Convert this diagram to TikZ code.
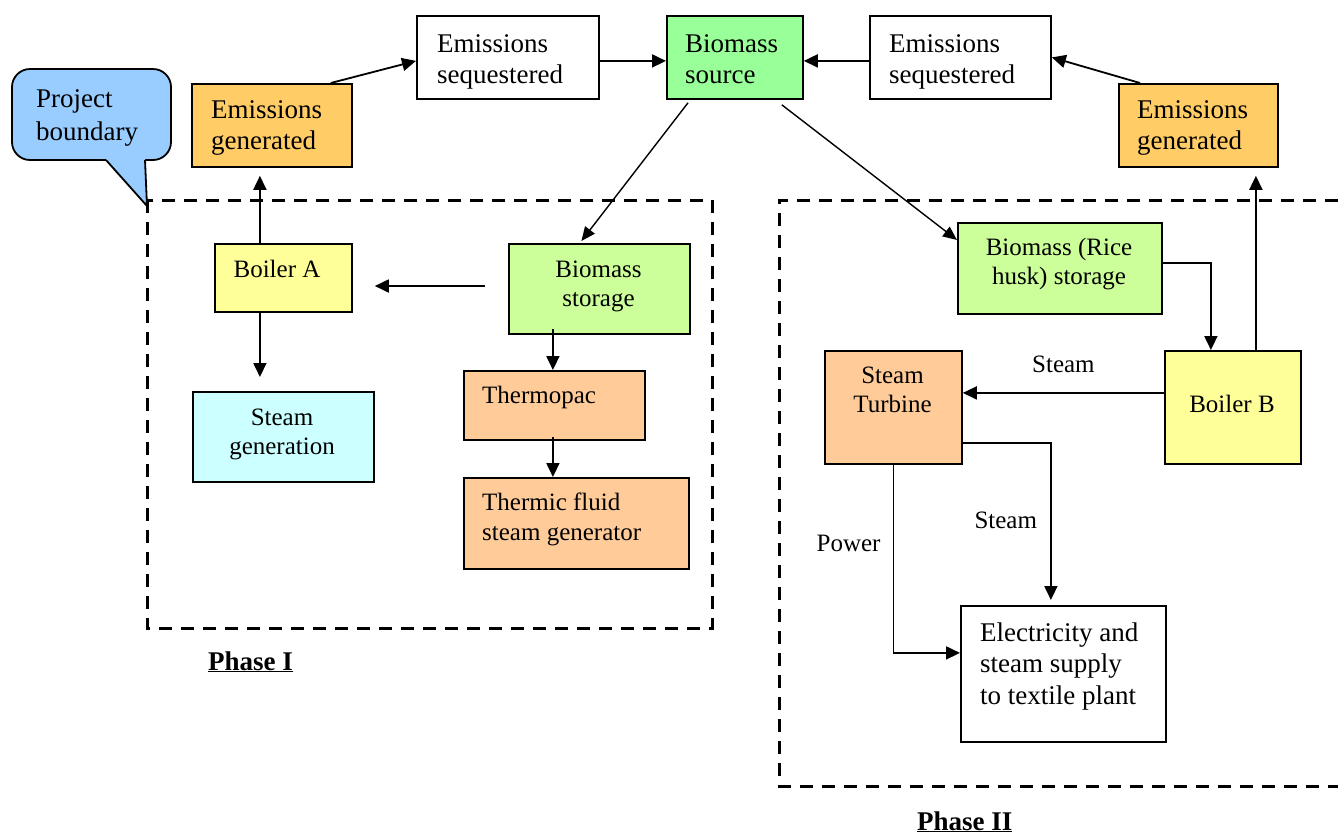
\documentclass[tikz,border=0pt]{standalone}
\usepackage{fontspec}
\setmainfont{Liberation Serif}
\usetikzlibrary{arrows.meta,calc}
\definecolor{cCallout}{HTML}{99CCFF}
\definecolor{cEmis}{HTML}{FFCC66}
\definecolor{cSource}{HTML}{99FF99}
\definecolor{cBoiler}{HTML}{FFFF99}
\definecolor{cStore}{HTML}{CCFF99}
\definecolor{cSteam}{HTML}{CCFFFF}
\definecolor{cPeach}{HTML}{FFCC99}
\newcommand{\mlines}[2]{\begin{tabular}[t]{@{}#1@{}}#2\end{tabular}}
\newcommand{\bx}[6]{\node[box, fill=#6, minimum width={(#3-#1)*1pt}, minimum height={(#4-#2)*1pt}] (#5) at (#1,#2) {};}
\begin{document}
\begin{tikzpicture}[x=1pt,y=-1pt,
  box/.style={draw, line width=1.8pt, inner sep=0pt, anchor=north west},
  arr/.style={line width=1.8pt, -{Triangle[length=14pt,width=13pt]}},
  thin arr/.style={line width=1.4pt, -{Triangle[length=14pt,width=12pt]}},
  tA/.style={inner sep=0pt, font=\fontsize{27}{31}\selectfont},
  tB/.style={inner sep=0pt, font=\fontsize{25}{29}\selectfont},
  bnd/.style={line width=3pt, dash pattern=on 13pt off 9pt}]
\useasboundingbox (0,0) rectangle (1338,836);

% project boundaries
\draw[bnd] (147,200) rectangle (712,628);
\draw[bnd] (1338,200) -- (779,200) -- (779,786) -- (1338,786);

% callout
\filldraw[fill=cCallout, line width=1.8pt, rounded corners=18pt] (12,69) rectangle (171,160);
\fill[cCallout] (106,158) -- (145,158) -- (145,160) -- (147,206) -- (106,160) -- cycle;
\draw[line width=1.8pt, line join=miter] (106,160) -- (147,206) -- (145,160);
\node[tA, anchor=base west] (pb) at (36,107) {\mlines{l}{Project\\[2pt]boundary}};

% boxes
\bx{191}{83}{351}{166}{egL}{cEmis}
\bx{416}{15}{598}{98}{esL}{white}
\bx{666}{15}{802}{98}{bs}{cSource}
\bx{869}{15}{1050}{98}{esR}{white}
\bx{1118}{83}{1277}{166}{egR}{cEmis}
\bx{214}{243}{351}{311}{bA}{cBoiler}
\bx{508}{243}{689}{333}{bstA}{cStore}
\bx{192}{391}{373}{481}{sg}{cSteam}
\bx{463}{370}{644}{439}{tp}{cPeach}
\bx{463}{477}{688}{568}{tf}{cPeach}
\bx{957}{222}{1161}{313}{rs}{cStore}
\bx{824}{350}{961}{463}{st}{cPeach}
\bx{1164}{350}{1300}{463}{bB}{cBoiler}
\bx{960}{605}{1165}{741}{el}{white}

% texts
\node[tA, anchor=base west] (egLt) at (211,118) {\mlines{l}{Emissions\\generated}};
\node[tA, anchor=base west] (esLt) at (437,52) {\mlines{l}{Emissions\\sequestered}};
\node[tA, anchor=base west] (bst) at (685,52) {\mlines{l}{Biomass\\source}};
\node[tA, anchor=base west] (esRt) at (889,52) {\mlines{l}{Emissions\\sequestered}};
\node[tA, anchor=base west] (egRt) at (1137,118) {\mlines{l}{Emissions\\generated}};
\node[tB, anchor=base] (bAt) at (277,277) {Boiler A};
\node[tB, anchor=base] (bstAt) at (598.5,277.5) {\mlines{c}{Biomass\\storage}};
\node[tB, anchor=base] (sgt) at (282,425) {\mlines{c}{Steam\\generation}};
\node[tB, anchor=base west] (tpt) at (482,403) {Thermopac};
\node[tB, anchor=base west] (tft) at (482,510) {\mlines{l}{Thermic fluid\\[1.5pt]steam generator}};
\node[tB, anchor=base] (rst) at (1059,255.5) {\mlines{c}{Biomass (Rice\\husk) storage}};
\node[tB, anchor=base] (stt) at (892.5,383.5) {\mlines{c}{Steam\\Turbine}};
\node[tB, anchor=base] (bBt) at (1232,412) {Boiler B};
\node[tA, anchor=base west] (elt) at (980,641) {\mlines{l}{Electricity and\\steam supply\\[1.5pt]to textile plant}};

% phase labels
\node[inner sep=0pt, font=\fontsize{27}{31}\selectfont\bfseries, anchor=base west] (ph1) at (208,670) {\underline{Phase I}};
\node[inner sep=0pt, font=\fontsize{27}{31}\selectfont\bfseries, anchor=base west] (ph2) at (917,830) {\underline{Phase II}};

% connectors (top)
\draw[arr] ([xshift=-22pt]egL.north east) -- ([yshift=-3.5pt]esL.west);
\draw[arr] ([yshift=-3.5pt]esL.east) -- ([yshift=-3.5pt]bs.west);
\draw[arr] ([yshift=-3.5pt]esR.west) -- ([yshift=-3.5pt]bs.east);
\draw[arr] ([xshift=22pt]egR.north west) -- (esR.east);
\draw[thin arr] ([xshift=22pt,yshift=-3pt]bs.south west) -- ([xshift=-18pt,yshift=2pt]bstA.north);
\draw[thin arr] ([xshift=-22pt,yshift=-5pt]bs.south east) -- ([yshift=-18pt]rs.north west);

% Phase I
\draw[arr, shorten >=8pt] ([xshift=-23.5pt]bA.north) -- ([xshift=-23.5pt]bA.north |- egL.south);
\draw[arr, shorten <=23pt, shorten >=22pt] (bstA.west |- 0,286) -- (bA.east |- 0,286);
\draw[arr, shorten >=14pt] ([xshift=-23.5pt]bA.south) -- ([xshift=-23.5pt]bA.south |- sg.north);
\draw[arr] ([xshift=-1.5pt,yshift=6pt]tp.south |- bstA.south) -- ([xshift=-1.5pt]tp.north);
\draw[arr] ([xshift=-1.5pt,yshift=4pt]tp.south) -- ([xshift=-1.5pt]tp.south |- tf.north);

% Phase II
\draw[arr] ([yshift=5.5pt]rs.east) -| ([xshift=-22pt]bB.north);
\draw[arr, shorten >=8pt] ([xshift=23pt]bB.north) -- ([xshift=23pt]bB.north |- egR.south);
\draw[arr] ([yshift=14.5pt]bB.west) -- ([yshift=14.5pt]bB.west -| st.east)
  node[tB, midway, above=19pt] (lst1) {Steam};
\draw[arr, shorten >=5pt] ([yshift=-35.5pt]st.east) -| ([xshift=-12.5pt]el.north)
  node[tB, pos=0.74, left=13pt] (lst2) {Steam};
\draw[arr] (st.south) |- ([yshift=21pt]el.west)
  node[tB, pos=0.21, left=12pt] (lpw) {Power};
\end{tikzpicture}
\end{document}
